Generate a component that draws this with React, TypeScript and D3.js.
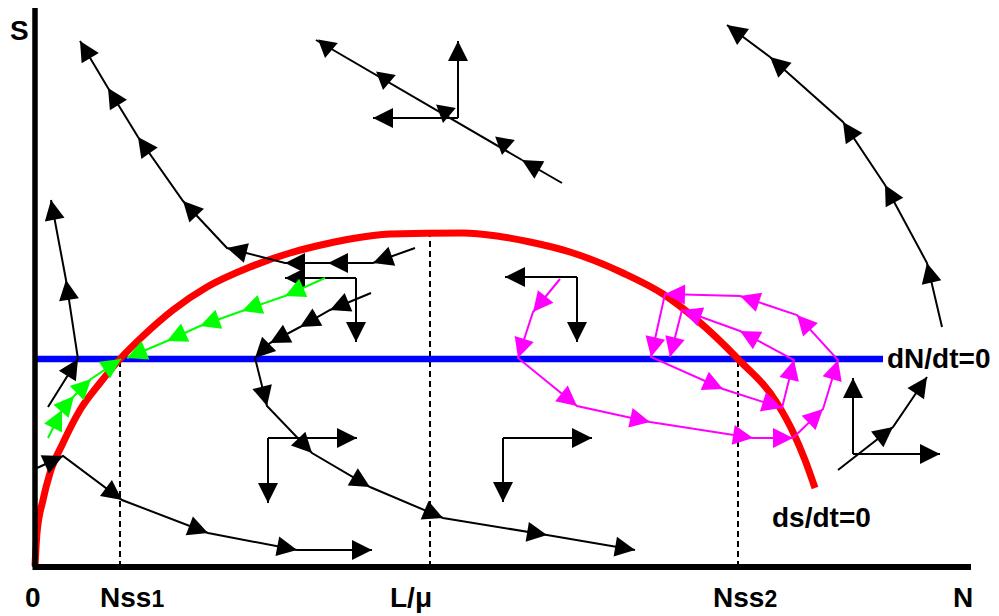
import React from 'react';
import * as d3 from 'd3';

type P = [number, number];

// ---------- data (N, S in schematic units) ----------
const sNullcline: P[] = [
  [0, 1], [2, 34], [8, 67], [15, 94], [28, 124], [45, 157], [65, 184], [85, 208],
  [108, 231], [138, 257], [172, 280], [215, 300], [255, 314], [295, 324], [315, 328],
  [355, 333], [428, 334], [462, 331], [495, 325], [535, 315], [588, 294], [628, 273],
  [662, 247], [703, 208], [742, 164], [758, 135], [770, 107], [780, 79],
];
const nNullclineS = 208;
const nNullclineEnd = 848;

const nss1 = 85;
const lOverMu = 395;
const nss2 = 703;
const sAtLOverMu = 334;

const axisNMax = 936;
const axisSMax = 559;

const tickNames = ['0', 'Nss', 'L/μ', 'Nss', 'N'];
const tickSubs = ['', '1', '', '2', ''];
const tickStarts = [-10, 65, 355, 678, 918];

// black trajectories (arrowhead at each vertex)
const blackTrajectories: P[][] = [
  [[380, 319], [338, 304], [293, 304], [250, 304], [192, 319], [148, 366], [103, 430], [73, 479], [45, 526]],
  [[336, 274], [295, 257], [265, 240], [235, 224], [220, 209], [232, 161], [277, 114], [335, 80], [408, 49], [512, 32], [600, 17]],
  [[13, 160], [43, 208], [31, 287], [16, 367]],
  [[2, 99], [28, 111], [87, 67], [173, 34], [262, 17], [337, 17]],
  [[907, 240], [892, 304], [850, 382], [808, 445], [735, 510], [692, 542]],
  [[803, 97], [858, 140], [892, 190]],
  [[527, 384], [487, 407]],
];
// plain black lines
const blackPlain: P[][] = [
  [[267, 304], [267, 289]],
  [[281, 527], [487, 407]],
];
// marks crossing the separating line: tip N, S, direction (deg)
const crossMarks: [number, number, number][] = [
  [290, 509, 100], [348, 477, 100], [408, 444, 100], [467, 412, 100],
];
// component vectors: corner and two tips
const componentCorners: P[] = [[423, 449], [321, 289], [542, 290], [233, 129], [468, 129], [818, 113]];
const componentTipsA: P[] = [[423, 526], [250, 289], [470, 290], [322, 129], [557, 129], [818, 189]];
const componentTipsB: P[] = [[338, 449], [321, 225], [542, 225], [233, 64], [468, 65], [905, 113]];

const greenTrajectories: P[][] = [
  [[290, 289], [250, 271], [207, 256], [165, 241], [132, 226], [92, 209]],
  [[13, 129], [27, 157], [39, 171], [56, 188], [86, 208]],
];

const magentaSpiral: P[] = [
  [525, 288], [498, 255], [483, 209], [542, 161], [615, 145], [718, 129], [758, 129], [788, 158],
  [803, 207], [762, 252], [705, 271], [630, 273], [616, 210], [688, 178], [747, 159], [759, 207],
  [705, 236], [647, 257], [635, 210],
];

const FONT = "'Liberation Sans', Arial, Helvetica, sans-serif";

export default function App() {
  const x = d3.scaleLinear().domain([0, 936]).range([35, 971]);
  const y = d3.scaleLinear().domain([0, 560]).range([567, 7]);
  const line = d3.line<P>().x((d) => x(d[0])).y((d) => y(d[1]));
  const smooth = d3.line<P>().x((d) => x(d[0])).y((d) => y(d[1])).curve(d3.curveMonotoneX);

  const headPts = (tx: number, ty: number, ux: number, uy: number, L = 20, w = 10) => {
    const bx = tx - ux * L, by = ty - uy * L;
    const nx = -uy, ny = ux;
    return `${tx},${ty} ${bx + nx * w},${by + ny * w} ${bx - nx * w},${by - ny * w}`;
  };
  const arrowHead = (from: P, to: P, key: string, color: string) => {
    const x0 = x(from[0]), y0 = y(from[1]), x1 = x(to[0]), y1 = y(to[1]);
    const len = Math.hypot(x1 - x0, y1 - y0) || 1;
    return <polygon key={key} points={headPts(x1, y1, (x1 - x0) / len, (y1 - y0) / len)} fill={color} />;
  };

  const drawArrowPath = (pts: P[], color: string, key: string) => {
    const els: React.ReactNode[] = [];
    els.push(<path key={key + 'l'} d={line(pts) || ''} fill="none" stroke={color} strokeWidth={2} strokeLinejoin="miter" />);
    for (let i = 1; i < pts.length; i++) els.push(arrowHead(pts[i - 1], pts[i], key + 'h' + i, color));
    return <g key={key}>{els}</g>;
  };

  return (
    <svg width={999} height={616} style={{ position: 'absolute', left: 0, top: 0, background: '#fff' }}>
      <rect x={0} y={0} width={999} height={616} fill="#fff" />
      {/* dashed guides */}
      {[[nss1, nNullclineS], [lOverMu, sAtLOverMu], [nss2, nNullclineS]].map((d, i) => (
        <line key={'dg' + i} x1={x(d[0])} x2={x(d[0])} y1={y(0)} y2={y(d[1])}
          stroke="#000" strokeWidth={2} strokeDasharray="6,4" />
      ))}
      {/* dN/dt = 0 */}
      <line x1={x(0)} x2={x(nNullclineEnd)} y1={y(nNullclineS)} y2={y(nNullclineS)} stroke="#0000ff" strokeWidth={6.5} />
      {/* ds/dt = 0 */}
      <path d={smooth(sNullcline) || ''} fill="none" stroke="#ff0000" strokeWidth={7} strokeLinejoin="round" />
      {/* axes */}
      <line x1={x(0)} x2={x(0)} y1={y(0)} y2={y(axisSMax)} stroke="#000" strokeWidth={5.5} />
      <line x1={x(0) - 2.5} x2={x(axisNMax)} y1={y(0)} y2={y(0)} stroke="#000" strokeWidth={6} />

      {/* black plain lines */}
      {blackPlain.map((p, i) => (
        <path key={'bp' + i} d={line(p) || ''} fill="none" stroke="#000" strokeWidth={2} />
      ))}
      {/* cross marks */}
      {crossMarks.map((m, i) => {
        const a = (m[2] * Math.PI) / 180;
        return <polygon key={'cm' + i} points={headPts(x(m[0]), y(m[1]), Math.cos(a), Math.sin(a), 17, 10)} fill="#000" />;
      })}
      {/* component vectors */}
      {componentCorners.map((c, i) => (
        <g key={'cv' + i}>
          {drawArrowPath([c, componentTipsA[i]], '#000', 'cva' + i)}
          {drawArrowPath([c, componentTipsB[i]], '#000', 'cvb' + i)}
        </g>
      ))}
      {/* black trajectories */}
      {blackTrajectories.map((t, i) => drawArrowPath(t, '#000', 'bt' + i))}
      {/* green */}
      {greenTrajectories.map((t, i) => drawArrowPath(t, '#00ff00', 'gt' + i))}
      {/* magenta spiral */}
      {drawArrowPath(magentaSpiral, '#ff00ff', 'ms')}

      {/* labels */}
      <g fontFamily={FONT} fontWeight="bold" fontSize={28} fill="#000">
        <text x={10} y={40}>S</text>
        {tickNames.map((t, i) => (
          <text key={'tl' + i} x={x(tickStarts[i])} y={607}>
            {t}
            {tickSubs[i] ? <tspan fontSize={23}>{tickSubs[i]}</tspan> : null}
          </text>
        ))}
        <text x={x(nNullclineEnd) + 4} y={y(nNullclineS) + 9}>dN/dt=0</text>
        <text x={772} y={527}>ds/dt=0</text>
      </g>
    </svg>
  );
}
